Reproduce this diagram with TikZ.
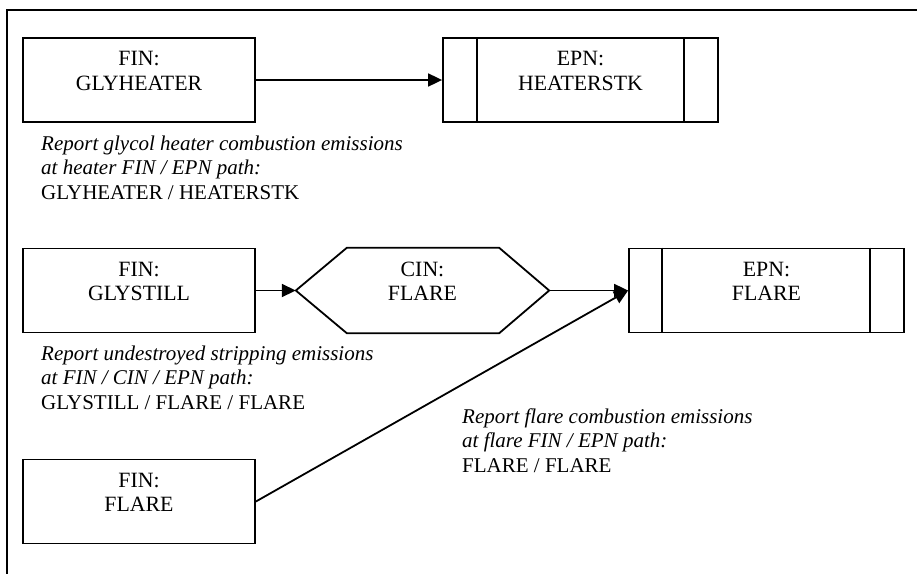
\documentclass[tikz,border=0pt]{standalone}
\usepackage{fontspec}
\setmainfont{Liberation Serif}
\usetikzlibrary{arrows.meta,calc}
\begin{document}
\begin{tikzpicture}[x=1pt,y=-1pt,
  every node/.style={font=\fontsize{21}{24.5}\selectfont},
  line/.style={line width=1.8pt},
  box/.style={draw,line width=1.8pt,minimum width=232pt,minimum height=84pt,inner sep=0pt},
  epnbox/.style={draw,line width=1.8pt,minimum width=275pt,minimum height=84pt,inner sep=0pt},
  hexbox/.style={minimum width=253pt,minimum height=85pt,inner sep=0pt},
  boxtext/.style={align=center,inner sep=0pt,font=\fontsize{21.8}{24.5}\selectfont},
  note/.style={anchor=base west,align=left,inner sep=0pt},
  arr/.style={line width=1.8pt,-{Triangle[length=14pt,width=13pt]}}
]
\useasboundingbox (0,0) rectangle (917,573);
% frame
\draw[line] (7,574) -- (7,10) -- (918,10);

% top row
\node[box] (fh) at (139,80) {};
\node[boxtext] (fh-t) at ($(fh.center)+(0,-9)$) {FIN:\\GLYHEATER};
\node[epnbox] (eh) at (580.5,80) {};
\node[boxtext] (eh-t) at ($(eh.center)+(0,-9)$) {EPN:\\HEATERSTK};
\draw[line] ($(eh.north west)+(35,0)$) -- ($(eh.south west)+(35,0)$);
\draw[line] ($(eh.north east)+(-35,0)$) -- ($(eh.south east)+(-35,0)$);
\draw[arr] (fh) -- (eh);

\node[note] (t1) at (41,199) {\itshape Report glycol heater combustion emissions\\\itshape at heater FIN / EPN path:\\GLYHEATER / HEATERSTK};

% middle row
\node[box] (fs) at (139,290.5) {};
\node[boxtext] (fs-t) at ($(fs.center)+(0,-9)$) {FIN:\\GLYSTILL};
\node[hexbox] (cin) at (422.5,290.5) {};
\node[boxtext] (cin-t) at ($(cin.center)+(0,-9)$) {CIN:\\FLARE};
\draw[line,line join=miter] (cin.west) -- ($(cin.north west)+(51,0)$) -- ($(cin.north east)+(-50,0)$) -- (cin.east)
  -- ($(cin.south east)+(-50,0)$) -- ($(cin.south west)+(51,0)$) -- cycle;
\node[epnbox] (ef) at (766.5,290.5) {};
\node[boxtext] (ef-t) at ($(ef.center)+(0,-9)$) {EPN:\\FLARE};
\draw[line] ($(ef.north west)+(34,0)$) -- ($(ef.south west)+(34,0)$);
\draw[line] ($(ef.north east)+(-35,0)$) -- ($(ef.south east)+(-35,0)$);
\draw[arr] (fs) -- (cin.west);
\draw[arr] (cin.east) -- (ef.west);

\node[note] (t2) at (41,409) {\itshape Report undestroyed stripping emissions\\\itshape at FIN / CIN / EPN path:\\GLYSTILL / FLARE / FLARE};

% bottom
\node[box] (ff) at (139,501.5) {};
\node[boxtext] (ff-t) at ($(ff.center)+(0,-9)$) {FIN:\\FLARE};
\draw[arr] (ff.east) -- (ef.west);

\node[note] (t3) at (462,472) {\itshape Report flare combustion emissions\\\itshape at flare FIN / EPN path:\\FLARE / FLARE};
\end{tikzpicture}
\end{document}
